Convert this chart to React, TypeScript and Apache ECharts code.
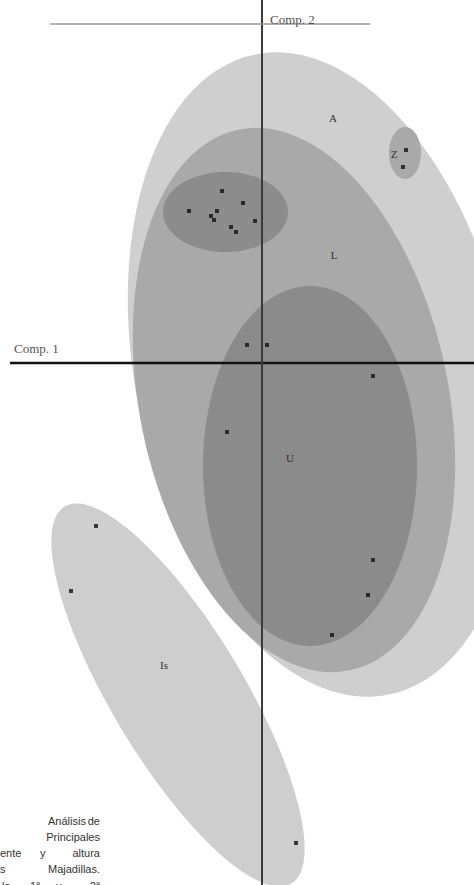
import React, { useEffect, useRef } from "react";
import * as echarts from "echarts";

// ---- data (Comp. 1 / Comp. 2 scores) ----
const ELLIPSE_NAMES = ["A", "L", "U", "E", "Z", "Is"];
const ELLIPSE_CENTER_X = [1.2, 0.64, 0.96, -0.73, 2.86, -1.68];
const ELLIPSE_CENTER_Y = [-0.23, -0.74, -2.06, 3.02, 4.2, -6.64];
const ELLIPSE_SEMI_X = [3.72, 3.09, 2.14, 1.25, 0.32, 4.4];
const ELLIPSE_SEMI_Y = [6.54, 5.52, 3.6, 0.8, 0.52, 1.32];
const ELLIPSE_ROTATION_DEG = [12, 11.6, 0, 0, 0, -59];

const POINT_COMP1 = [
  -0.8, -1.46, -0.9, -1.02, -0.96, -0.14, -0.62, -0.52, -0.38,
  2.88, 2.82,
  -0.3, 0.1, 2.22, -0.7, 2.22, 2.12, 1.4,
  -3.32, -3.82, 0.68,
];
const POINT_COMP2 = [
  3.44, 3.04, 3.04, 2.94, 2.86, 2.84, 2.72, 2.62, 3.2,
  4.26, 3.92,
  0.36, 0.36, -0.26, -1.38, -3.94, -4.64, -5.44,
  -3.26, -4.56, -9.6,
];

const GROUP_LABELS = ["A", "Z", "L", "U", "Is"];
const LABEL_COMP1 = [1.42, 2.64, 1.44, 0.56, -1.96];
const LABEL_COMP2 = [4.9, 4.18, 2.16, -1.9, -6.04];

const AXIS_TITLES = ["Comp. 1", "Comp. 2"];
const CAPTION_LINES = [
  ["Análisis", "de"],
  ["Principales"],
  ["ente", "y", "altura"],
  ["s", "Majadillas."],
  ["la", "1ª", "y", "2ª"],
];

// ---- view ----
const X_MIN = -5.24;
const X_MAX = 4.24;
const Y_MIN = -10.44;
const Y_MAX = 7.26;

const FILLS: Record<string, string> = {
  A: "#cfcfcf",
  L: "#a9a9a9",
  U: "#8b8b8b",
  E: "#8c8c8c",
  Z: "#a9a9a9",
  Is: "#cecece",
};

export default function App() {
  const ref = useRef<HTMLDivElement>(null);
  useEffect(() => {
    if (!ref.current) return;
    const chart = echarts.init(ref.current, null, { renderer: "svg" });

    const ellipseData = ELLIPSE_NAMES.map((_, i) => [
      ELLIPSE_CENTER_X[i],
      ELLIPSE_CENTER_Y[i],
      ELLIPSE_SEMI_X[i],
      ELLIPSE_SEMI_Y[i],
      ELLIPSE_ROTATION_DEG[i],
    ]);

    const captionFont = "11px 'Liberation Sans', Arial, sans-serif";
    const lineY = [821, 837, 853, 869, 886];
    const wordX: number[][] = [
      [48, 100],
      [100],
      [0, 40, 100],
      [0, 100],
      [2, 30, 56, 100],
    ];
    const wordAlign: string[][] = [
      ["left", "right"],
      ["right"],
      ["left", "left", "right"],
      ["left", "right"],
      ["left", "left", "left", "right"],
    ];
    const caption: any[] = [];
    CAPTION_LINES.forEach((words, li) => {
      words.forEach((w, wi) => {
        caption.push({
          type: "text",
          x: wordX[li][wi],
          y: lineY[li],
          z: 1,
          style: {
            text: w,
            font: captionFont,
            fill: "#333",
            align: wordAlign[li][wi],
            verticalAlign: "middle",
          },
        });
      });
    });

    const option: any = {
      animation: false,
      backgroundColor: "#ffffff",
      grid: { left: 0, right: 0, top: 0, bottom: 0, containLabel: false },
      xAxis: { type: "value", min: X_MIN, max: X_MAX, show: false },
      yAxis: { type: "value", min: Y_MIN, max: Y_MAX, show: false },
      graphic: [
        ...caption,
        {
          type: "text",
          x: 14,
          y: 348,
          z: 100,
          style: {
            text: AXIS_TITLES[0],
            font: "13px 'Liberation Serif', serif",
            fill: "#555",
            align: "left",
            verticalAlign: "middle",
          },
        },
        {
          type: "text",
          x: 270,
          y: 19,
          z: 100,
          style: {
            text: AXIS_TITLES[1],
            font: "13px 'Liberation Serif', serif",
            fill: "#555",
            align: "left",
            verticalAlign: "middle",
          },
        },
      ],
      series: [
        {
          type: "custom",
          z: 2,
          data: ellipseData,
          encode: { x: 0, y: 1 },
          renderItem: (params: any, api: any) => {
            const cx = api.value(0);
            const cy = api.value(1);
            const rx = api.value(2);
            const ry = api.value(3);
            const rot = (api.value(4) * Math.PI) / 180;
            const pts: number[][] = [];
            const n = 120;
            for (let k = 0; k < n; k++) {
              const t = (k / n) * Math.PI * 2;
              const ex = rx * Math.cos(t);
              const ey = ry * Math.sin(t);
              const x = cx + ex * Math.cos(rot) - ey * Math.sin(rot);
              const y = cy + ex * Math.sin(rot) + ey * Math.cos(rot);
              pts.push(api.coord([x, y]));
            }
            return {
              type: "polygon",
              shape: { points: pts },
              style: { fill: FILLS[ELLIPSE_NAMES[params.dataIndex]], stroke: null },
            };
          },
        },
        {
          type: "line",
          z: 5,
          data: [
            [X_MIN + 0.2, 0],
            [X_MAX, 0],
          ],
          showSymbol: false,
          symbol: "none",
          lineStyle: { color: "#111", width: 2.5 },
        },
        {
          type: "line",
          z: 5,
          data: [
            [0, Y_MAX],
            [0, Y_MIN],
          ],
          showSymbol: false,
          symbol: "none",
          lineStyle: { color: "#3a3a3a", width: 2 },
        },
        {
          type: "line",
          z: 5,
          data: [
            [-4.24, 6.78],
            [2.16, 6.78],
          ],
          showSymbol: false,
          symbol: "none",
          lineStyle: { color: "#9a9a9a", width: 1.5 },
        },
        {
          type: "scatter",
          z: 6,
          symbol: "rect",
          symbolSize: 4,
          itemStyle: { color: "#111" },
          data: POINT_COMP1.map((x, i) => [x, POINT_COMP2[i]]),
        },
        {
          type: "custom",
          z: 7,
          data: GROUP_LABELS.map((_, i) => [LABEL_COMP1[i], LABEL_COMP2[i]]),
          encode: { x: 0, y: 1 },
          renderItem: (params: any, api: any) => {
            const p = api.coord([api.value(0), api.value(1)]);
            return {
              type: "text",
              x: p[0],
              y: p[1],
              style: {
                text: GROUP_LABELS[params.dataIndex],
                font: "11px 'Liberation Serif', serif",
                fill: "#333",
                align: "center",
                verticalAlign: "middle",
              },
            };
          },
        },
      ],
    };
    chart.setOption(option);
    return () => chart.dispose();
  }, []);

  return (
    <div
      ref={ref}
      style={{ position: "absolute", left: 0, top: 0, width: 474, height: 885 }}
    />
  );
}
